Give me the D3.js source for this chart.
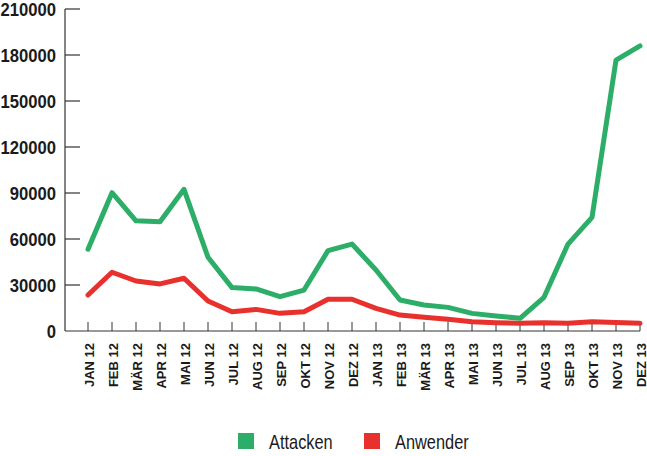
<!DOCTYPE html>
<html>
<head>
<meta charset="utf-8">
<script src="https://cdn.jsdelivr.net/npm/d3@7"></script>
<style>
  body { margin: 0; background: #fff; }
  svg text { font-family: "Liberation Sans", Arimo, Arial, sans-serif; }
</style>
</head>
<body>
<svg id="chart_svg" width="647" height="456"></svg>
<script>
// months on the x axis
var months = ["JAN 12", "FEB 12", "MÄR 12", "APR 12", "MAI 12", "JUN 12", "JUL 12", "AUG 12",
  "SEP 12", "OKT 12", "NOV 12", "DEZ 12", "JAN 13", "FEB 13", "MÄR 13", "APR 13", "MAI 13",
  "JUN 13", "JUL 13", "AUG 13", "SEP 13", "OKT 13", "NOV 13", "DEZ 13"];

// values
var attacken = [53300, 90200, 71900, 71300, 92400, 48100, 28300, 27400, 22400, 26700, 52400, 56700,
  39800, 20200, 17000, 15400, 11500, 9800, 8300, 22000, 56700, 74100, 176700, 185900];
var anwender = [23500, 38300, 32600, 30700, 34400, 19600, 12600, 14100, 11500, 12600, 20700, 20700,
  14800, 10400, 8900, 7600, 6100, 5400, 5000, 5400, 5000, 6100, 5600, 5000];

var yTicks = [0, 30000, 60000, 90000, 120000, 150000, 180000, 210000];

var seriesNames = ["Attacken", "Anwender"];
var seriesColors = ["#2dae68", "#e8312c"];

drawChart();

function drawChart() {
  var svg = d3.select('#chart_svg');
  var left = 65, right = 640, top = 9, bottom = 331;

  var x = d3.scalePoint().domain(months).range([88, right]);
  var y = d3.scaleLinear().domain([0, 210000]).range([bottom, top]);

  // y axis
  svg.append("line")
    .attr("x1", left).attr("x2", left)
    .attr("y1", top).attr("y2", bottom)
    .style("stroke", "#333").style("stroke-width", 1.2);

  svg.selectAll(".ytick")
    .data(yTicks.filter(d => d > 0))
    .enter()
    .append("line")
    .attr("class", "ytick")
    .attr("x1", left).attr("x2", left + 15)
    .attr("y1", d => y(d)).attr("y2", d => y(d))
    .style("stroke", "#333").style("stroke-width", 1.2);

  // condensed look: squeeze the glyphs horizontally
  svg.selectAll(".ylabel")
    .data(yTicks)
    .enter()
    .append("text")
    .attr("class", "ylabel")
    .attr("transform", d => "translate(56," + y(d) + ") scale(0.9,1)")
    .attr("dy", "0.36em")
    .attr("text-anchor", "end")
    .style("font-size", "18.5px")
    .style("font-weight", "bold")
    .style("fill", "#1a1a1a")
    .text(d => d);

  // x axis
  svg.append("line")
    .attr("x1", left).attr("x2", right)
    .attr("y1", bottom).attr("y2", bottom)
    .style("stroke", "#333").style("stroke-width", 1.2);

  svg.selectAll(".xtick")
    .data(months)
    .enter()
    .append("line")
    .attr("class", "xtick")
    .attr("x1", d => x(d)).attr("x2", d => x(d))
    .attr("y1", bottom - 9).attr("y2", bottom)
    .style("stroke", "#333").style("stroke-width", 1);

  svg.selectAll(".xlabel")
    .data(months)
    .enter()
    .append("text")
    .attr("class", "xlabel")
    .attr("transform", d => "translate(" + (x(d) + 1) + "," + 343 + ") rotate(-90)")
    .attr("dy", "0.36em")
    .attr("text-anchor", "end")
    .style("font-size", "13px")
    .style("font-weight", "bold")
    .style("fill", "#1a1a1a")
    .text(d => d);

  // lines
  var line = d3.line()
    .x((d, i) => x(months[i]))
    .y(d => y(d));

  [anwender, attacken].forEach(function (values, k) {
    svg.append("path")
      .datum(values)
      .attr("d", line)
      .style("fill", "none")
      .style("stroke", k == 0 ? seriesColors[1] : seriesColors[0])
      .style("stroke-width", 5)
      .style("stroke-linejoin", "round")
      .style("stroke-linecap", "round");
  });

  // legend
  var legendX = [238, 364];
  svg.selectAll(".legendBox")
    .data(seriesNames)
    .enter()
    .append("rect")
    .attr("class", "legendBox")
    .attr("x", (_, i) => legendX[i])
    .attr("y", 433)
    .attr("width", 16)
    .attr("height", 16)
    .style("fill", (_, i) => seriesColors[i]);

  svg.selectAll(".legendText")
    .data(seriesNames)
    .enter()
    .append("text")
    .attr("class", "legendText")
    .attr("transform", (_, i) => "translate(" + (legendX[i] + 31) + ",449) scale(0.82,1)")
    .style("font-size", "20px")
    .style("fill", "#1a1a1a")
    .text(d => d);
}
</script>
</body>
</html>
